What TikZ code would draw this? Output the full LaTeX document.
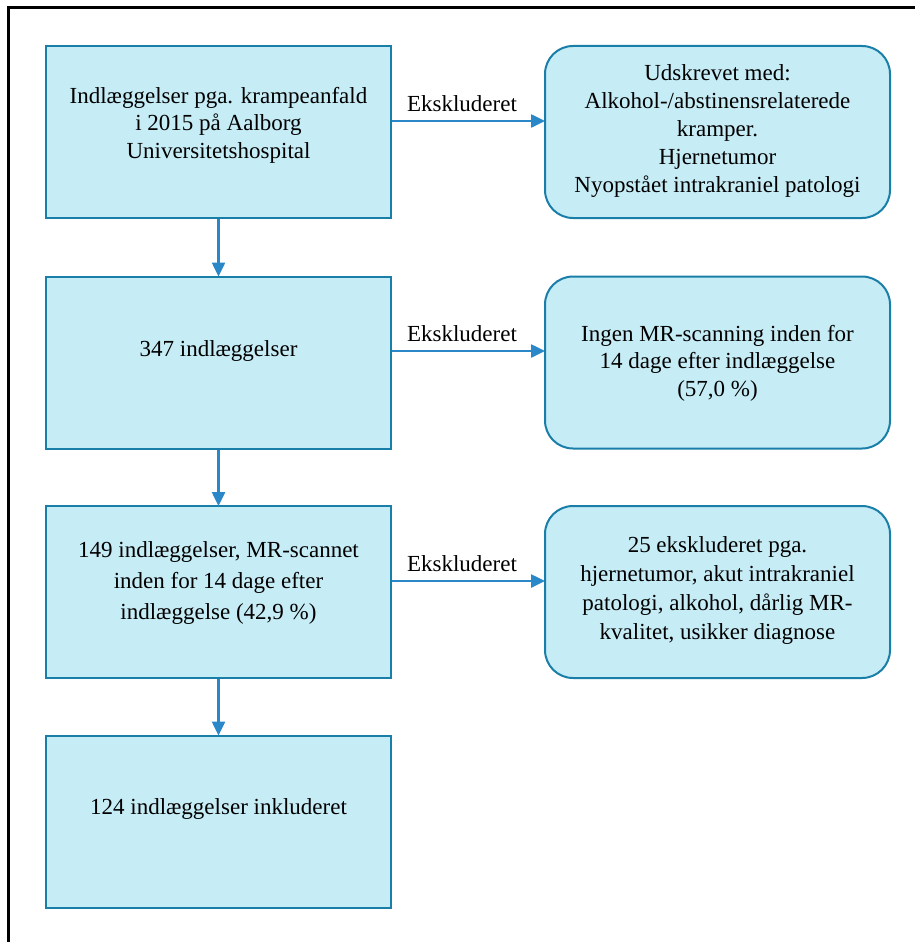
\documentclass[tikz,border=0pt]{standalone}
\usepackage{fontspec}
\setmainfont{Liberation Serif}
\usetikzlibrary{arrows.meta}
\definecolor{boxfill}{HTML}{C6ECF6}
\definecolor{boxline}{HTML}{1A7FA8}
\definecolor{arrowc}{HTML}{2B88C8}
\tikzset{
  sqbox/.style={draw=boxline, fill=boxfill, line width=2pt, minimum width=345pt, minimum height=172pt, inner sep=0pt},
  rbox/.style={sqbox, rounded corners=28pt},
  txt/.style={font=\fontsize{23}{27.5}\selectfont, align=center, inner sep=0pt, text=black},
  lbl/.style={font=\fontsize{23}{27.5}\selectfont, inner sep=0pt, text=black},
  arr/.style={draw=arrowc, line width=2.5pt, -{Triangle[length=14pt,width=13pt]}, shorten >=-1pt}
}
\begin{document}
\begin{tikzpicture}[x=1pt,y=-1pt]
\useasboundingbox (0,0) rectangle (915,942);
\draw[line width=2.5pt] (8.5,7.5) rectangle (940,970);
% left boxes
\node[sqbox] (b1) at (218.5,132) {};
\node[sqbox] (b2) at (218.5,362.5) {};
\node[sqbox] (b3) at (218.5,592) {};
\node[sqbox] (b4) at (218.5,821.5) {};
% right boxes
\node[rbox] (r1) at (717.5,132) {};
\node[rbox] (r2) at (717.5,362.5) {};
\node[rbox] (r3) at (717.5,592) {};
% texts
\node[txt] (t1) at (218.5,125) {Indlæggelser pga. krampeanfald\\i 2015 på Aalborg\\Universitetshospital};
\node[txt] (t2) at (218.5,351) {347 indlæggelser};
\node[txt] (t3) at (218.5,583) {149 indlæggelser, MR-scannet\\[3.5pt]inden for 14 dage efter\\[3.5pt]indlæggelse (42,9 \%)};
\node[txt] (t4) at (218.5,809) {124 indlæggelser inkluderet};
\node[txt] (u1) at (717.5,131.5) {Udskrevet med:\\[0.5pt]Alkohol-/abstinensrelaterede\\[0.5pt]kramper.\\[0.5pt]Hjernetumor\\[0.5pt]Nyopstået intrakraniel patologi};
\node[txt] (u2) at (717.5,363) {Ingen MR-scanning inden for\\14 dage efter indlæggelse\\(57,0 \%)};
\node[txt] (u3) at (717.5,590.5) {25 ekskluderet pga.\\[1.5pt]hjernetumor, akut intrakraniel\\[1.5pt]patologi, alkohol, dårlig MR-\\[1.5pt]kvalitet, usikker diagnose};
% arrow heights
\coordinate (y1) at (0,121);
\coordinate (y2) at (0,351);
\coordinate (y3) at (0,581);
% vertical arrows
\draw[arr] (b1.south) -- (b2.north);
\draw[arr] (b2.south) -- (b3.north);
\draw[arr] (b3.south) -- (b4.north);
% horizontal arrows
\draw[arr] (y1 -| b1.east) -- node[lbl, above=8pt, xshift=-6pt] (e1) {Ekskluderet} (y1 -| r1.west);
\draw[arr] (y2 -| b2.east) -- node[lbl, above=8pt, xshift=-6pt] (e2) {Ekskluderet} (y2 -| r2.west);
\draw[arr] (y3 -| b3.east) -- node[lbl, above=8pt, xshift=-6pt] (e3) {Ekskluderet} (y3 -| r3.west);
\end{tikzpicture}
\end{document}
